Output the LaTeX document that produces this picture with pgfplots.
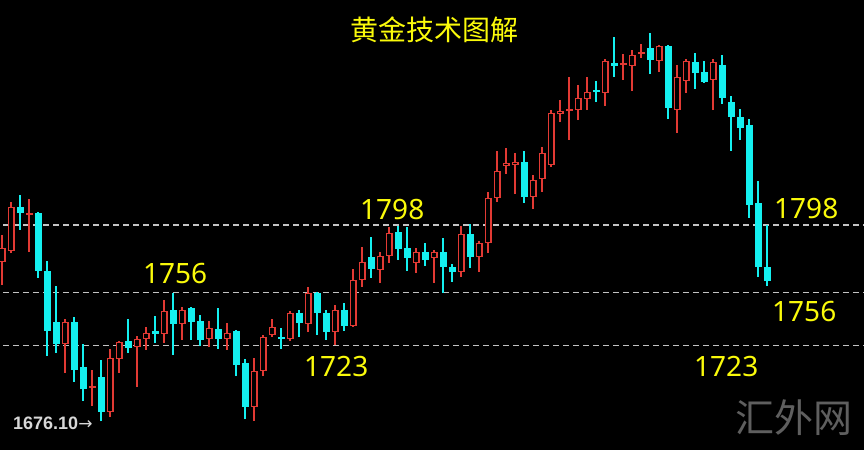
\documentclass[border=0pt]{standalone}
\usepackage{pgfplots}
\pgfplotsset{compat=1.18}
\usepackage{pgfplotstable}
\usepackage{fontspec}
\newfontfamily\cjk{Noto Sans CJK SC}
\newfontfamily\numf{Noto Sans}
\newfontfamily\lib{Liberation Sans}
\newfontfamily\arrowfont{DejaVu Sans}
\definecolor{cR}{RGB}{226,58,52}
\definecolor{cC}{RGB}{20,240,240}
\definecolor{cY}{RGB}{250,250,10}
\definecolor{cG}{RGB}{195,195,195}
\definecolor{cW}{RGB}{215,215,215}
\definecolor{cM}{RGB}{95,95,95}
\pgfplotsset{cand/.style 2 args={draw=none, mark=none, forget plot, error bars/.cd, y dir=plus, y explicit, error mark=none, error bar style={draw=#1, line width=#2, solid}}}
% red (rising) candles: index open high low close
\pgfplotstableread{
x o h l c
1 1775.0 1791.8 1760.7 1783.7
2 1781.9 1812.3 1780.6 1809.2
4 1804.2 1814.2 1781.2 1805.5
8 1724.1 1739.6 1706.1 1737.8
11 1696.8 1707.9 1685.6 1698.0
13 1681.9 1721.0 1678.7 1715.4
14 1714.8 1726.0 1706.1 1725.3
16 1722.2 1729.1 1697.4 1727.2
17 1727.2 1734.6 1720.4 1730.9
19 1730.3 1751.4 1724.7 1744.6
21 1736.5 1747.1 1726.6 1745.2
24 1727.2 1738.4 1722.2 1734.0
26 1727.2 1737.1 1720.4 1730.9
29 1685.0 1715.4 1676.3 1707.3
30 1707.3 1729.7 1704.2 1728.4
31 1729.7 1739.6 1728.4 1734.6
33 1727.2 1744.6 1726.0 1743.3
35 1736.5 1759.5 1731.5 1755.8
38 1731.5 1748.3 1723.5 1745.2
40 1735.3 1770.7 1734.6 1763.8
41 1763.8 1784.3 1759.5 1775.0
43 1770.1 1781.2 1762.0 1778.7
44 1778.7 1796.8 1774.4 1793.0
47 1774.4 1783.7 1768.2 1781.2
49 1777.5 1782.5 1762.0 1781.2
52 1768.8 1797.4 1765.7 1792.4
54 1778.1 1788.1 1768.8 1786.8
55 1786.8 1818.5 1780.6 1814.8
56 1814.8 1844.0 1812.3 1831.5
57 1834.6 1845.8 1829.7 1836.5
58 1835.3 1842.7 1817.3 1837.1
60 1815.4 1829.1 1807.9 1826.0
61 1826.6 1846.5 1818.5 1842.7
62 1835.3 1869.4 1834.0 1867.6
63 1866.9 1875.6 1862.0 1868.8
64 1868.8 1889.9 1850.8 1870.1
65 1869.4 1885.0 1863.2 1876.9
66 1876.3 1889.9 1869.4 1880.6
68 1880.0 1901.1 1871.9 1899.9
70 1897.4 1904.2 1888.1 1898.6
71 1896.8 1906.7 1881.2 1903.6
72 1904.2 1910.4 1901.7 1905.5
74 1899.9 1909.8 1893.0 1909.2
76 1869.4 1897.4 1855.1 1889.9
77 1887.4 1901.1 1880.0 1899.9
80 1888.1 1901.1 1869.4 1899.2
}\up
% cyan (falling) candles: index open high low close
\pgfplotstableread{
x o h l c
3 1809.2 1816.6 1794.9 1805.5
5 1805.5 1806.0 1765.1 1769.4
6 1769.4 1775.6 1716.6 1732.2
7 1737.8 1760.1 1718.5 1724.1
9 1737.8 1740.9 1700.5 1707.9
10 1709.8 1724.1 1688.7 1696.1
12 1703.6 1714.2 1676.1 1681.9
15 1726.0 1739.6 1718.5 1721.6
18 1732.2 1741.5 1724.7 1730.3
20 1745.2 1755.8 1717.3 1736.5
22 1746.5 1747.1 1726.6 1737.8
23 1738.4 1742.1 1722.8 1726.6
25 1733.4 1746.5 1721.0 1727.2
27 1732.2 1732.8 1704.2 1711.0
28 1712.3 1714.8 1677.5 1685.0
32 1728.4 1734.0 1721.0 1727.2
34 1743.3 1745.2 1728.4 1737.1
36 1755.8 1756.4 1729.7 1743.3
37 1743.3 1745.2 1726.6 1731.5
39 1745.2 1749.6 1732.2 1735.3
42 1778.1 1790.5 1765.1 1770.7
45 1793.7 1797.4 1776.3 1783.1
46 1783.7 1796.8 1769.4 1777.5
48 1781.2 1786.8 1772.5 1776.3
50 1781.2 1789.9 1755.8 1771.9
51 1771.9 1773.8 1762.6 1768.8
53 1792.4 1798.6 1771.3 1778.1
59 1837.1 1844.0 1811.7 1815.4
67 1881.9 1887.4 1874.4 1880.6
69 1898.6 1914.8 1889.9 1896.8
73 1907.9 1917.3 1891.8 1900.5
75 1909.2 1909.8 1863.8 1870.7
78 1899.2 1904.8 1882.5 1892.4
79 1893.0 1899.9 1886.2 1886.8
81 1897.4 1903.6 1873.2 1876.9
82 1874.4 1878.1 1844.0 1865.1
83 1865.1 1870.1 1850.8 1858.3
84 1860.1 1863.8 1802.4 1810.4
85 1811.7 1825.3 1765.7 1771.9
86 1771.9 1798.0 1760.1 1763.2
}\dn
\begin{document}
\begin{tikzpicture}
\fill[black] (0,0) rectangle (864bp,450bp);
\begin{axis}[at={(0,0)}, anchor=south west, scale only axis,
  width=864bp, height=450bp,
  xmin=0.7778, xmax=96.7778, ymin=1658.25, ymax=1937.75, hide axis]
\addplot[cG, line width=1.5bp, dash pattern=on 6bp off 4bp, forget plot] coordinates {(0,1798) (100,1798)};
\addplot[cG, line width=1.5bp, dash pattern=on 6bp off 4bp, forget plot] coordinates {(0,1756) (100,1756)};
\addplot[cG, line width=1.5bp, dash pattern=on 6bp off 4bp, forget plot] coordinates {(0,1723) (100,1723)};
% wicks
\addplot[cand={cR}{1.2bp}] table[x=x, y=l, y error expr=\thisrow{h}-\thisrow{l}] {\up};
\addplot[cand={cC}{1.2bp}] table[x=x, y=l, y error expr=\thisrow{h}-\thisrow{l}] {\dn};
% bodies
\addplot[cand={cC}{7bp}] table[x=x, y=c, y error expr=\thisrow{o}-\thisrow{c}] {\dn};
\addplot[cand={cR}{7bp}] table[x=x, y=o, y error expr=\thisrow{c}-\thisrow{o}] {\up};
\addplot[cand={black}{4.6bp}] table[x=x, y expr=\thisrow{o}+0.8, y error expr={max(\thisrow{c}-\thisrow{o}-1.6,0)}] {\up};
\end{axis}
\node[anchor=base, text=cY, inner sep=0, font=\cjk\fontsize{28bp}{30bp}\selectfont] at (434bp,409bp) {黄金技术图解};
\begin{scope}[every node/.style={anchor=base west, inner sep=0, text=cY, font=\numf\fontsize{28bp}{30bp}\selectfont}]
\node at (360bp,230bp) {1798};
\node at (143bp,166bp) {1756};
\node at (304bp,73bp) {1723};
\node at (774bp,231bp) {1798};
\node at (772bp,128bp) {1756};
\node at (694bp,73bp) {1723};
\end{scope}
\node[anchor=base west, inner sep=0, text=cW, font=\lib\fontsize{18bp}{20bp}\selectfont] at (13bp,21bp) {\textbf{1676.10}{\arrowfont\fontsize{17bp}{20bp}\selectfont →}};
\node[anchor=base, inner sep=0, text=cM, font=\cjk\fontsize{39bp}{40bp}\selectfont] at (794bp,18bp) {汇外网};
\end{tikzpicture}
\end{document}
